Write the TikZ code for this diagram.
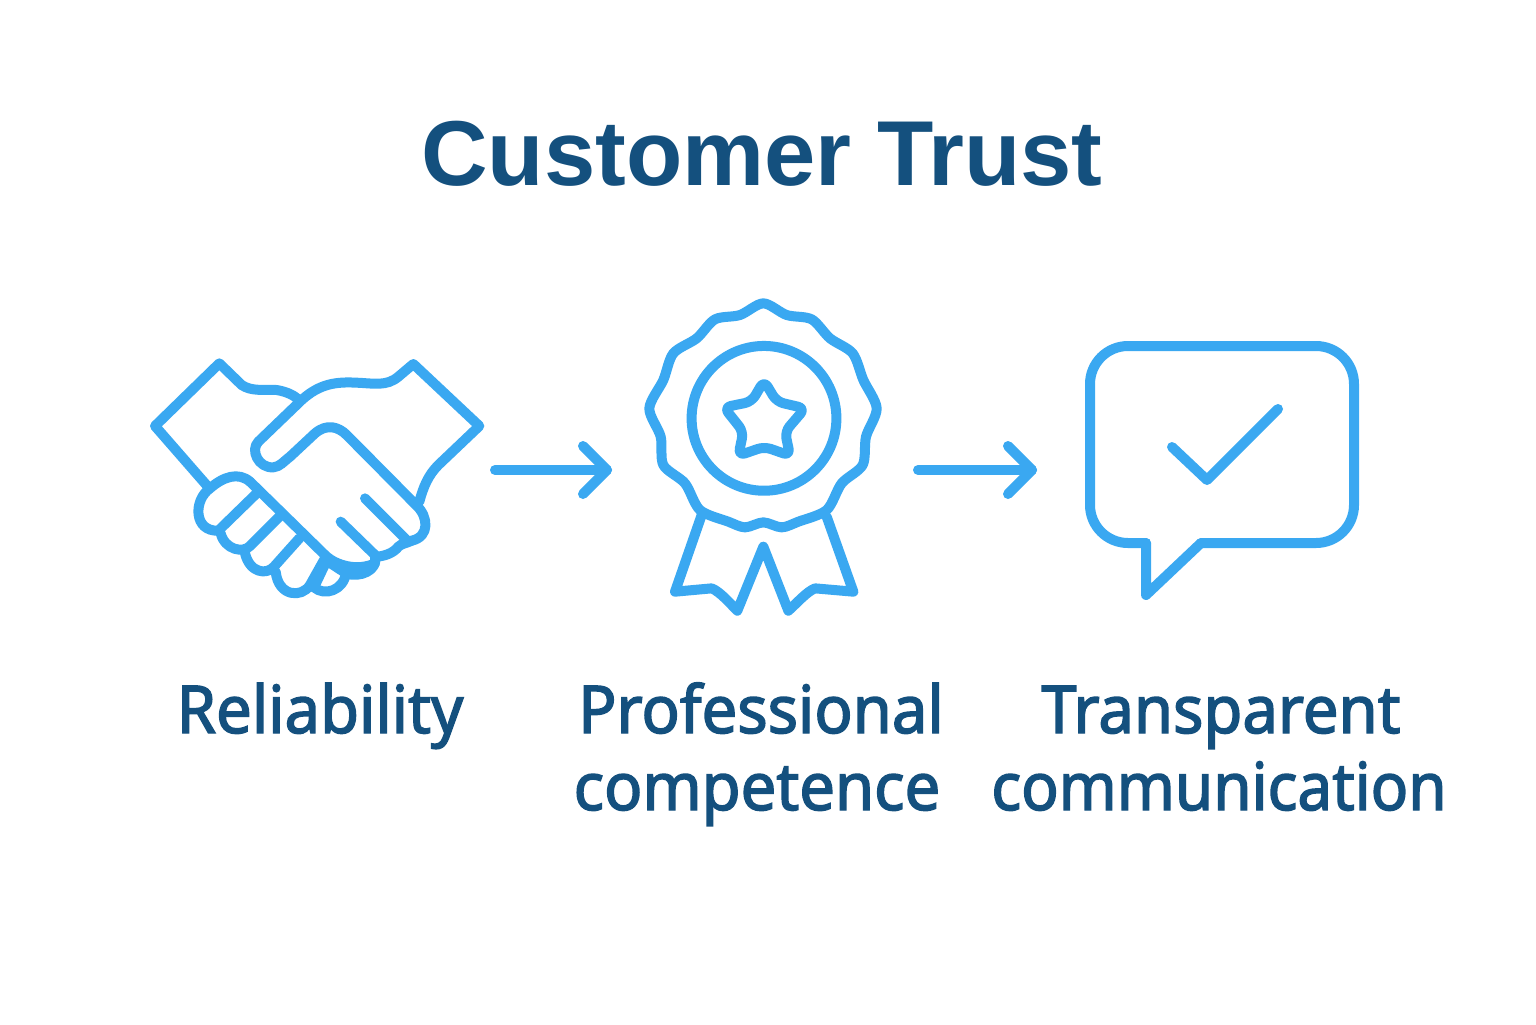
\documentclass[tikz,border=0pt]{standalone}
\usepackage{fontspec}
\newfontfamily\titlefont{Liberation Sans}[BoldFont={* Bold}]
\newfontfamily\labelfont{Noto Sans}[FakeStretch=0.96,RawFeature={embolden=2.2}]
\definecolor{iconblue}{HTML}{3AA8F1}
\definecolor{textblue}{HTML}{14507E}
\tikzset{
  icon/.style={draw=iconblue,line width=5pt,line cap=round,line join=round},
  arrowline/.style={icon},
  titletext/.style={text=textblue,font=\titlefont\bfseries\fontsize{46.1}{50}\selectfont,anchor=base,inner sep=0pt},
  labeltext/.style={text=textblue,font=\labelfont\fontsize{33}{39}\selectfont,anchor=base,inner sep=0pt},
  zoomA/.style={shift={(65pt,-170pt)},x=0.16667pt,y=-0.16667pt},
  zoomB/.style={shift={(315pt,-145pt)},x=0.16667pt,y=-0.16667pt},
}
\begin{document}
\begin{tikzpicture}[x=0.5pt,y=-0.5pt]
\useasboundingbox (0,0) rectangle (1536,1024);
\fill[white] (0,0) rectangle (1536,1024);
\node[titletext] (title) at (762,185) {Customer Trust};
\node[labeltext] (l1) at (320,733) {Reliability};
\node[labeltext] (l2a) at (761,733) {Professional};
\node[labeltext] (l2b) at (757,810) {competence};
\node[labeltext] (l3a) at (1221,733) {Transparent};
\node[labeltext,xscale=0.98] (l3b) at (1219,810) {communication};
% handshake
\begin{scope}[zoomA]
\draw[icon] (232,438) -- (75,258) -- (268,70) -- (335,135) .. controls (365,155) and (400,148) .. (440,150) .. controls (470,155) and (490,165) .. (505,178);
\draw[icon] (868,485) .. controls (880,440) and (895,405) .. (925,375) -- (1048,258) -- (850,72) -- (805,110) .. controls (770,140) and (730,130) .. (680,128) .. controls (620,125) and (570,130) .. (515,180) -- (385,305) .. controls (360,330) and (385,385) .. (430,382) .. controls (450,380) and (460,365) .. (480,350) -- (555,280) .. controls (590,250) and (625,260) .. (650,285) -- (860,497) .. controls (895,530) and (900,590) .. (845,602);
\draw[icon] (845,602) .. controls (830,610) and (815,610) .. (805,620) .. controls (790,640) and (760,650) .. (735,650);
\draw[icon] (735,650) .. controls (745,690) and (690,715) .. (648,700);
\draw[icon] (648,700) .. controls (640,750) and (585,770) .. (552,742);
\draw[icon] (552,742) -- (590,662) -- (648,700);
\draw[icon] (360,425) -- (590,650) .. controls (620,675) and (680,695) .. (735,670);
\draw[icon] (360,425) .. controls (325,395) and (280,410) .. (240,445) .. controls (190,480) and (190,575) .. (265,572) -- (380,460);
\draw[icon] (272,580) .. controls (285,630) and (340,640) .. (360,618) -- (448,530);
\draw[icon] (345,640) .. controls (360,700) and (410,705) .. (432,680) -- (508,595);
\draw[icon] (437,695) .. controls (445,770) and (515,775) .. (540,735) -- (582,660);
\draw[icon] (705,475) -- (830,600);
\draw[icon] (632,545) -- (735,645);
\end{scope}
% medal
\begin{scope}[zoomB]
\draw[icon] plot[smooth cycle,tension=0.5] coordinates {(400,40)(470,75)(545,88)(600,145)(668,190)(700,270)(740,355)(708,440)(698,525)(635,580)(590,660)(505,695)(455,712)(400,697)(345,712)(295,695)(210,660)(165,580)(100,525)(92,440)(58,355)(100,270)(130,190)(200,145)(255,88)(330,75)};
\draw[icon] (402,385) circle [radius=36.2pt];
\draw[icon,rounded corners=3.5pt] (402,272) -- (440,335) -- (525,355) -- (465,425) -- (480,497) -- (403,470) -- (325,497) -- (340,425) -- (282,352) -- (365,335) -- cycle;
\draw[icon] (215,675) -- (135,905) -- (245,895) .. controls (270,905) and (300,940) .. (322,962) -- (400,770) -- (475,962) .. controls (500,940) and (530,905) .. (555,895) -- (670,905) -- (590,680);
\end{scope}
% bubble
\draw[icon,rounded corners=19pt] (1146,543) -- (1090,543) -- (1090,346) -- (1354,346) -- (1354,543) -- (1201,543);
\draw[icon] (1146,543) -- (1146,595) -- (1201,543);
\draw[icon] (1172,447) -- (1207,480) -- (1278,409);
% arrows
\coordinate (a1s) at (495,470); \coordinate (a1e) at (607,470);
\coordinate (a2s) at (918,470); \coordinate (a2e) at (1032,470);
\draw[arrowline] (a1s) -- (a1e);
\draw[arrowline] ([shift={(-24,-24)}]a1e) -- (a1e) -- ([shift={(-24,24)}]a1e);
\draw[arrowline] (a2s) -- (a2e);
\draw[arrowline] ([shift={(-24,-24)}]a2e) -- (a2e) -- ([shift={(-24,24)}]a2e);
\end{tikzpicture}
\end{document}
